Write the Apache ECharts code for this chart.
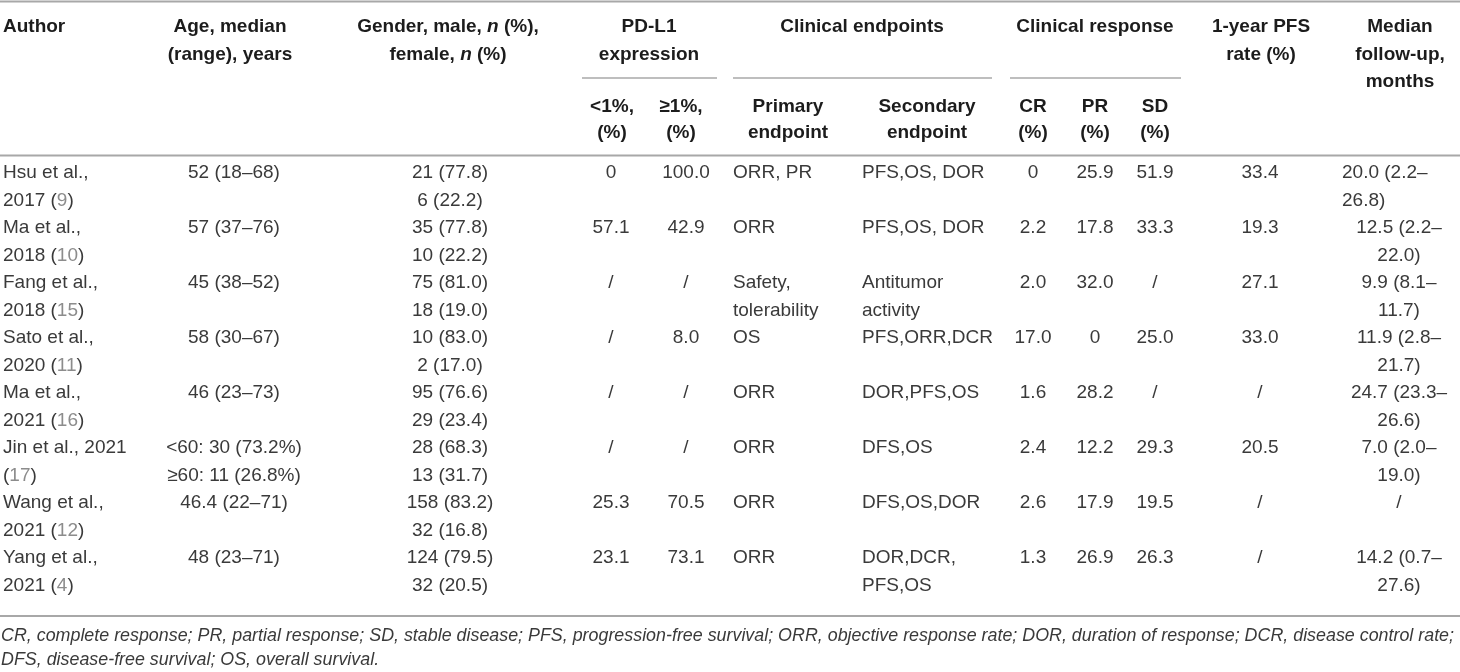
<!DOCTYPE html>
<html><head><meta charset="utf-8">
<script src="https://cdn.jsdelivr.net/npm/echarts@6/dist/echarts.min.js"></script>
<style>html,body{margin:0;padding:0;background:#fff}#c{width:1460px;height:672px}</style>
</head><body><div id="c"></div>
<script>
// ---------- DATA ----------
const authorLine1 = ["Hsu et al.,", "Ma et al.,", "Fang et al.,", "Sato et al.,", "Ma et al.,", "Jin et al., 2021", "Wang et al.,", "Yang et al.,"];
const authorYear = ["2017", "2018", "2018", "2020", "2021", "", "2021", "2021"];
const authorRef = ["9", "10", "15", "11", "16", "17", "12", "4"];
const ageMedian = ["52 (18–68)", "57 (37–76)", "45 (38–52)", "58 (30–67)", "46 (23–73)", "<60: 30 (73.2%)\n≥60: 11 (26.8%)", "46.4 (22–71)", "48 (23–71)"];
const genderMale = ["21 (77.8)", "35 (77.8)", "75 (81.0)", "10 (83.0)", "95 (76.6)", "28 (68.3)", "158 (83.2)", "124 (79.5)"];
const genderFemale = ["6 (22.2)", "10 (22.2)", "18 (19.0)", "2 (17.0)", "29 (23.4)", "13 (31.7)", "32 (16.8)", "32 (20.5)"];
const pdl1Below1 = ["0", "57.1", "/", "/", "/", "/", "25.3", "23.1"];
const pdl1Above1 = ["100.0", "42.9", "/", "8.0", "/", "/", "70.5", "73.1"];
const primaryEndpoint = ["ORR, PR", "ORR", "Safety,\ntolerability", "OS", "ORR", "ORR", "ORR", "ORR"];
const secondaryEndpoint = ["PFS,OS, DOR", "PFS,OS, DOR", "Antitumor\nactivity", "PFS,ORR,DCR", "DOR,PFS,OS", "DFS,OS", "DFS,OS,DOR", "DOR,DCR,\nPFS,OS"];
const crPct = ["0", "2.2", "2.0", "17.0", "1.6", "2.4", "2.6", "1.3"];
const prPct = ["25.9", "17.8", "32.0", "0", "28.2", "12.2", "17.9", "26.9"];
const sdPct = ["51.9", "33.3", "/", "25.0", "/", "29.3", "19.5", "26.3"];
const pfs1yRate = ["33.4", "19.3", "27.1", "33.0", "/", "20.5", "/", "/"];
const followUp = ["20.0 (2.2–\n26.8)", "12.5 (2.2–\n22.0)", "9.9 (8.1–\n11.7)", "11.9 (2.8–\n21.7)", "24.7 (23.3–\n26.6)", "7.0 (2.0–\n19.0)", "/", "14.2 (0.7–\n27.6)"];

const headerTop = ["Author", "Age, median\n(range), years", "Gender, male, {i|n} (%),\nfemale, {i|n} (%)", "PD-L1\nexpression", "Clinical endpoints", "Clinical response", "1-year PFS\nrate (%)", "Median\nfollow-up,\nmonths"];
const headerSub = ["<1%,\n(%)", "≥1%,\n(%)", "Primary\nendpoint", "Secondary\nendpoint", "CR\n(%)", "PR\n(%)", "SD\n(%)"];
const footnoteLines = [
  "CR, complete response; PR, partial response; SD, stable disease; PFS, progression-free survival; ORR, objective response rate; DOR, duration of response; DCR, disease control rate;",
  "DFS, disease-free survival; OS, overall survival."
];

// ---------- LAYOUT ----------
const FONT = "'Liberation Sans', Arial, Helvetica, sans-serif";
const BODY_SIZE = 19, BODY_LH = 27.5, ROW_H = 55, BODY_TOP = 159.25;
const BODY_COLOR = '#3a3a3a', HEAD_COLOR = '#1c1c1c', REF_COLOR = '#8c8c8c', RULE = '#a8a8a8';

const topHeaderPos = [[3, 'left'], [230, 'center'], [448, 'center'], [649, 'center'], [862, 'center'], [1095, 'center'], [1261, 'center'], [1400, 'center']];
const subHeaderPos = [[612, 'center'], [681, 'center'], [788, 'center'], [927, 'center'], [1033, 'center'], [1095, 'center'], [1155, 'center']];

const cells = [];
function headRich(lh) {
  return {
    b: { fontFamily: FONT, fontSize: BODY_SIZE, fontWeight: 'bold', fill: HEAD_COLOR, lineHeight: lh },
    i: { fontFamily: FONT, fontSize: BODY_SIZE, fontWeight: 'bold', fontStyle: 'italic', fill: HEAD_COLOR, lineHeight: lh }
  };
}
function wrapRich(txt, base) {
  // wrap plain segments of each line into the base style
  return txt.split('\n').map(line => {
    const parts = line.split(/(\{i\|[^}]*\})/).filter(s => s.length);
    return parts.map(p => p.startsWith('{i|') ? p : '{' + base + '|' + p + '}').join('');
  }).join('\n');
}
headerTop.forEach((t, k) => {
  cells.push({ x: topHeaderPos[k][0], y: 13.25, align: topHeaderPos[k][1], text: wrapRich(t, 'b'), rich: headRich(27.5) });
});
headerSub.forEach((t, k) => {
  cells.push({ x: subHeaderPos[k][0], y: 94, align: subHeaderPos[k][1], text: wrapRich(t, 'b'), rich: headRich(26) });
});

const bodyRich = {
  t: { fontFamily: FONT, fontSize: BODY_SIZE, fill: BODY_COLOR, lineHeight: BODY_LH },
  c: { fontFamily: FONT, fontSize: BODY_SIZE, fill: REF_COLOR, lineHeight: BODY_LH }
};
const bodyCols = [
  [ageMedian, 234, 'center'],
  [pdl1Below1, 611, 'center'],
  [pdl1Above1, 686, 'center'],
  [primaryEndpoint, 733, 'left'],
  [secondaryEndpoint, 862, 'left'],
  [crPct, 1033, 'center'],
  [prPct, 1095, 'center'],
  [sdPct, 1155, 'center'],
  [pfs1yRate, 1260, 'center']
];
authorLine1.forEach((a, r) => {
  const y = BODY_TOP + ROW_H * r;
  const yr = authorYear[r] ? authorYear[r] + ' ' : '';
  cells.push({ x: 3, y, align: 'left', text: '{t|' + a + '}\n{t|' + yr + '(}{c|' + authorRef[r] + '}{t|)}', rich: bodyRich });
  cells.push({ x: 450, y, align: 'center', text: '{t|' + genderMale[r] + '}\n{t|' + genderFemale[r] + '}', rich: bodyRich });
  bodyCols.forEach(([arr, x, al]) => {
    cells.push({ x, y, align: al, text: wrapRich(arr[r], 't'), rich: bodyRich });
  });
  const fuLeft = r === 0;
  cells.push({ x: fuLeft ? 1342 : 1399, y, align: fuLeft ? 'left' : 'center', text: wrapRich(followUp[r], 't'), rich: bodyRich });
});

// footnote with horizontal condensing to match the narrow italic face
const meas = document.createElement('canvas').getContext('2d');
meas.font = 'italic ' + BODY_SIZE + 'px ' + FONT;
const fnScale = 1453 / meas.measureText(footnoteLines[0]).width;
footnoteLines.forEach((t, k) => {
  cells.push({ x: 1, y: 624 + 24 * k, align: 'left', text: '{f|' + t + '}', scaleX: fnScale,
    rich: { f: { fontFamily: FONT, fontSize: BODY_SIZE, fontStyle: 'italic', fill: BODY_COLOR, lineHeight: 24 } } });
});

const rules = [
  [0, 1460, 1.5, 2], [582, 717, 78, 1.5], [733, 992, 78, 1.5], [1010, 1181, 78, 1.5],
  [0, 1460, 155.5, 2], [0, 1460, 616, 2]
];

const chart = echarts.init(document.getElementById('c'), null, { renderer: 'canvas' });
chart.setOption({
  animation: false,
  backgroundColor: '#fff',
  grid: { left: 0, right: 0, top: 0, bottom: 0 },
  xAxis: { type: 'value', min: 0, max: 1460, show: false },
  yAxis: { type: 'value', min: 0, max: 672, inverse: true, show: false },
  series: [
    {
      type: 'custom',
      coordinateSystem: 'cartesian2d',
      data: rules.map((l, i) => [l[0], l[2], l[1], i]),
      renderItem: function (params, api) {
        const l = rules[api.value(3)];
        const p1 = api.coord([api.value(0), api.value(1)]);
        const p2 = api.coord([api.value(2), api.value(1)]);
        return { type: 'line', shape: { x1: p1[0], y1: p1[1], x2: p2[0], y2: p2[1] }, style: { stroke: RULE, lineWidth: l[3] } };
      },
      silent: true
    },
    {
      type: 'custom',
      coordinateSystem: 'cartesian2d',
      data: cells.map((c, i) => [c.x, c.y, i]),
      renderItem: function (params, api) {
        const c = cells[api.value(2)];
        const p = api.coord([api.value(0), api.value(1)]);
        return {
          type: 'text', x: p[0], y: p[1], scaleX: c.scaleX || 1, originX: 0,
          style: { text: c.text, rich: c.rich, align: c.align, verticalAlign: 'top', fontFamily: FONT, fontSize: BODY_SIZE }
        };
      },
      silent: true
    }
  ]
});
</script>
</body></html>
